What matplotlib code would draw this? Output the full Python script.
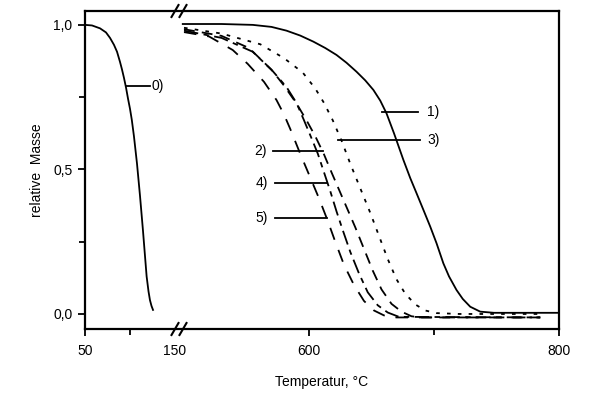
import numpy as np
from matplotlib import pyplot as plt
from matplotlib.ticker import FixedLocator, FuncFormatter

plt.rcParams['font.family'] = ['Liberation Sans', 'DejaVu Sans']

# curve 0) -- low temperature part of the axis
temp_0 = [50, 57.8, 66.7, 73.3, 77.8, 82.2, 85.6, 88.9, 91.1, 93.3, 95.6, 97.8, 100, 102,
          104.4, 107.8, 111.1, 114.4, 116.7, 118.5, 120.6, 122.2, 123.9, 125.6]
mass_0 = [1.0, 0.998, 0.988, 0.974, 0.955, 0.931, 0.907, 0.872, 0.846, 0.817, 0.783, 0.745, 0.71, 0.672,
          0.615, 0.52, 0.41, 0.29, 0.2, 0.13, 0.078, 0.048, 0.028, 0.014]

# curves 1) .. 5) -- high temperature part
temp_1 = [499, 530, 555, 570, 582, 593, 603.5, 613, 622, 630, 638, 645, 651.5, 657, 662, 668, 675.5,
          681, 686, 692, 697, 702, 707.5, 712, 718, 723, 729, 737, 748, 800]
mass_1 = [1.003, 1.003, 1.0, 0.993, 0.98, 0.963, 0.942, 0.92, 0.896, 0.869, 0.838, 0.808, 0.775, 0.738,
          0.694, 0.625, 0.533, 0.47, 0.418, 0.355, 0.302, 0.245, 0.175, 0.13, 0.083, 0.052, 0.025,
          0.008, 0.004, 0.004]

temp_2 = [500, 530, 552, 570, 580, 590, 598, 605, 612, 618, 624, 630, 637, 644, 651, 658, 666, 674,
          682, 690, 785]
mass_2 = [0.985, 0.962, 0.92, 0.845, 0.79, 0.728, 0.67, 0.615, 0.552, 0.49, 0.43, 0.37, 0.3, 0.225,
          0.15, 0.085, 0.035, 0.008, -0.008, -0.012, -0.012]

temp_3 = [500, 530, 561, 580, 595, 605, 612, 619, 626, 633, 641, 649, 656, 663, 670, 677, 685, 693,
          702, 720, 785]
mass_3 = [0.99, 0.97, 0.933, 0.885, 0.835, 0.78, 0.73, 0.67, 0.6, 0.52, 0.435, 0.35, 0.27, 0.19, 0.12,
          0.07, 0.033, 0.012, 0.003, 0.0, 0.0]

temp_4 = [500, 530, 555, 571, 582, 590, 596, 602, 607, 612, 617, 622, 627, 633, 640, 647, 655, 663,
          672, 785]
mass_4 = [0.98, 0.955, 0.907, 0.84, 0.785, 0.73, 0.67, 0.608, 0.555, 0.49, 0.425, 0.355, 0.29, 0.215,
          0.14, 0.075, 0.03, 0.005, -0.01, -0.012]

temp_5 = [500, 520, 539, 551, 564, 574, 580, 585, 593, 601, 608, 615, 621, 628, 636, 644, 652, 660,
          670, 785]
mass_5 = [0.975, 0.96, 0.913, 0.865, 0.803, 0.74, 0.69, 0.64, 0.554, 0.472, 0.4, 0.322, 0.25, 0.17,
          0.1, 0.045, 0.012, -0.005, -0.012, -0.012]

# broken temperature axis: 50..155 then 497..800
_brk_T = [50, 155.6, 496.8, 800]
_brk_u = [0, 95, 95.001, 474]


def _fwd(t):
    return np.interp(t, _brk_T, _brk_u)


def _inv(u):
    return np.interp(u, _brk_u, _brk_T)


fig = plt.figure(figsize=(6, 3.97), dpi=100)
ax = fig.add_axes([85 / 600, 1 - 329 / 397, 474 / 600, 318 / 397])
ax.set_xscale('function', functions=(_fwd, _inv))
ax.set_xlim(50, 800)
ax.set_ylim(-0.052, 1.048)

lw = 1.3
ax.plot(temp_0, mass_0, color='black', lw=lw)
ax.plot(temp_1, mass_1, color='black', lw=lw)
ax.plot(temp_3, mass_3, color='black', lw=lw, linestyle=(0, (2, 4)))
ax.plot(temp_2, mass_2, color='black', lw=lw, linestyle=(0, (6, 4)))
ax.plot(temp_4, mass_4, color='black', lw=lw, linestyle=(0, (8, 3, 3, 3)))
ax.plot(temp_5, mass_5, color='black', lw=lw, linestyle=(0, (7, 6)))

# curve labels with leader lines
labels = [
    ("0)", 95.6, 122.2, 0.789, 124, 'left'),
    ("1)", 658.2, 687.4, 0.700, 694, 'left'),
    ("3)", 623.4, 688.8, 0.602, 695, 'left'),
    ("2)", 571.4, 611.4, 0.562, 566, 'right'),
    ("4)", 572.8, 614.2, 0.452, 567, 'right'),
    ("5)", 572.8, 614.2, 0.331, 567, 'right'),
]
for txt, x0, x1, y, xt, ha in labels:
    ax.plot([x0, x1], [y, y], color='black', lw=1.3)
    ax.text(xt, y, txt, ha=ha, va='center', fontsize=10)

ax.xaxis.set_major_locator(FixedLocator([50, 150, 600, 800]))
ax.xaxis.set_minor_locator(FixedLocator([100, 700]))
ax.xaxis.set_major_formatter(FuncFormatter(lambda v, p: f"{v:.0f}"))
ax.xaxis.set_minor_formatter(FuncFormatter(lambda v, p: ""))
ax.yaxis.set_major_locator(FixedLocator([0.0, 0.5, 1.0]))
ax.yaxis.set_minor_locator(FixedLocator([0.25, 0.75]))
ax.yaxis.set_major_formatter(FuncFormatter(lambda v, p: f"{v:.1f}".replace(".", ",")))

ax.tick_params(which='both', direction='out', width=1.3, labelsize=10)
ax.tick_params(which='major', length=5)
ax.tick_params(which='minor', length=4)
ax.tick_params(axis='x', pad=6)
ax.tick_params(axis='y', pad=4)
ax.xaxis.get_major_ticks()[1].tick1line.set_visible(False)
for sp in ax.spines.values():
    sp.set_linewidth(1.6)

# break marks on top and bottom spines
for yb in (0, 1):
    for xc in (175, 183):
        fx = (xc - 85) / 474
        ax.plot([fx - 3.5 / 474, fx + 3.5 / 474], [yb - 6 / 318, yb + 6 / 318],
                transform=ax.transAxes, color='black', lw=1.5, clip_on=False)

ax.set_xlabel("Temperatur, °C", fontsize=10, labelpad=12)
ax.set_ylabel("relative  Masse", fontsize=10, labelpad=7)

fig.savefig("out.png", dpi=100)
